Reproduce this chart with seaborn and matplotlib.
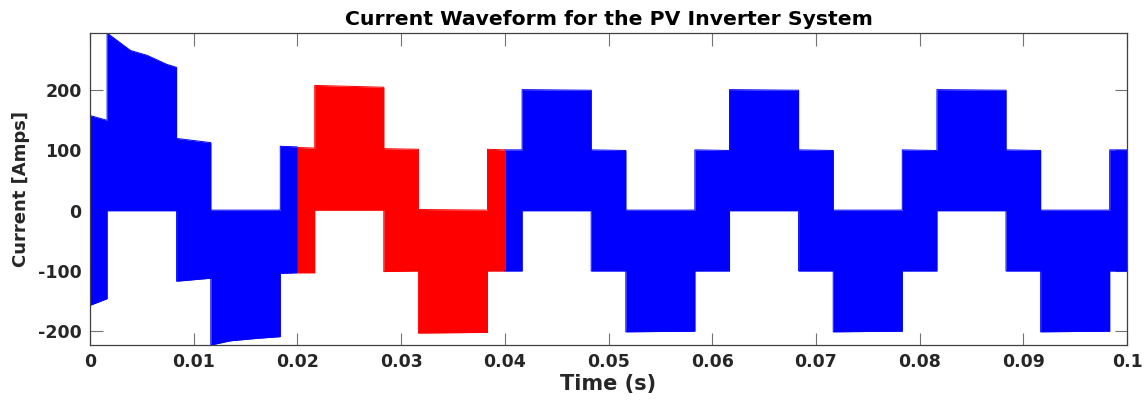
import matplotlib
matplotlib.use("Agg")
import matplotlib.pyplot as plt
import seaborn as sns

# envelope of the switching current: time (s), upper / lower level (A)
# first cycle, start-up transient (blue)
t_start = [0.0, 0.00165, 0.00165, 0.0039, 0.0055, 0.0074, 0.00835, 0.00835, 0.01165,
           0.01165, 0.0135, 0.016, 0.01835, 0.01835, 0.02]
up_start = [158, 150, 295, 266, 258, 243, 238, 120, 113, 1, 1, 1, 1, 107, 106]
lo_start = [-157, -146, 0, 0, 0, 0, 0, -117, -112, -223, -216, -212, -209, -104, -103]

# second cycle (red)
t_mid = [0.02, 0.02167, 0.02167, 0.02833, 0.02833, 0.03167, 0.03167, 0.03833, 0.03833, 0.04]
up_mid = [105, 104, 208, 205, 103, 102, 2, 1, 102, 101]
lo_mid = [-103, -103, 1, 1, -101, -100, -203, -202, -100, -100]

# steady state (blue)
t_end = [0.04, 0.04167, 0.04167, 0.04833, 0.04833, 0.05167, 0.05167, 0.05833, 0.05833, 0.06167,
         0.06167, 0.06833, 0.06833, 0.07167, 0.07167, 0.07833, 0.07833, 0.08167, 0.08167, 0.08833,
         0.08833, 0.09167, 0.09167, 0.09833, 0.09833, 0.1]
up_end = [101, 101, 201, 200, 101, 100, 1, 1, 101, 100, 201, 200, 101, 100, 1, 1,
          101, 100, 201, 200, 101, 100, 1, 1, 101, 101]
lo_end = [-100, -100, 0, 0, -100, -100, -201, -200, -100, -100, 0, 0, -100, -100, -201, -200,
          -100, -100, 0, 0, -100, -100, -201, -200, -100, -100]

x_ticks = [0, 0.01, 0.02, 0.03, 0.04, 0.05, 0.06, 0.07, 0.08, 0.09, 0.1]
x_ticklabels = ["0", "0.01", "0.02", "0.03", "0.04", "0.05", "0.06", "0.07", "0.08", "0.09", "0.1"]
y_ticks = [-200, -100, 0, 100, 200]
y_ticklabels = ["-200", "-100", "0", "100", "200"]

sns.set_theme(style="ticks")
plt.rcParams['font.family'] = ['DejaVu Sans']
plt.rcParams['font.weight'] = 'bold'

fig, ax = plt.subplots(figsize=(11.45, 4.05), dpi=100)
fig.subplots_adjust(left=0.0786, right=0.9843, top=0.9185, bottom=0.148)

tramos = [(t_start, up_start, lo_start, "#0000ff"),
          (t_mid, up_mid, lo_mid, "#ff0000"),
          (t_end, up_end, lo_end, "#0000ff")]
for t, up, lo, col in tramos:
    ax.fill_between(t, lo, up, color=col, linewidth=0)
    sns.lineplot(x=t, y=up, estimator=None, sort=False, color=col, lw=0.7, ax=ax)
    sns.lineplot(x=t, y=lo, estimator=None, sort=False, color=col, lw=0.7, ax=ax)

ax.set_xlim(0, 0.1)
ax.set_ylim(-223, 295)
ax.set_xticks(x_ticks)
ax.set_xticklabels(x_ticklabels)
ax.set_yticks(y_ticks)
ax.set_yticklabels(y_ticklabels)

ax.tick_params(direction="in", top=True, right=True, length=9, width=0.8,
               color="0.45", labelsize=12.5, labelcolor="#262626", pad=6)
for s in ax.spines.values():
    s.set_visible(True)
    s.set_color("0.25")
    s.set_linewidth(0.9)

ax.set_title("Current Waveform for the PV Inverter System", fontsize=14.7,
             fontweight="bold", color="black", pad=6)
ax.set_xlabel("Time (s)", fontsize=15, fontweight="bold", color="#262626", labelpad=2)
ax.set_ylabel("Current [Amps]", fontsize=13, fontweight="bold", color="#262626", labelpad=6)

plt.savefig("out.png", dpi=100)
